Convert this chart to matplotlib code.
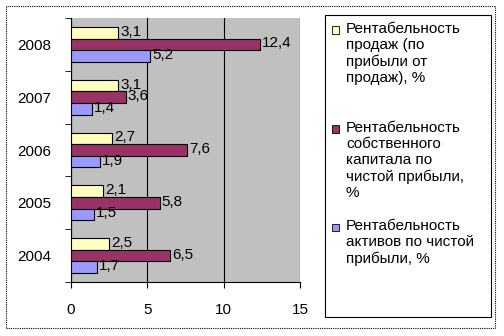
import numpy as np
import matplotlib
matplotlib.use('Agg')
import matplotlib.pyplot as plt
from matplotlib.patches import Rectangle

plt.rcParams['font.family'] = ['Liberation Sans', 'DejaVu Sans']

years = ['2004', '2005', '2006', '2007', '2008']
sales = [2.5, 2.1, 2.7, 3.1, 3.1]
equity = [6.5, 5.8, 7.6, 3.6, 12.4]
assets = [1.7, 1.5, 1.9, 1.4, 5.2]
names = ['Рентабельность\nпродаж (по\nприбыли от\nпродаж), %',
         'Рентабельность\nсобственного\nкапитала по\nчистой прибыли,\n%',
         'Рентабельность\nактивов по чистой\nприбыли, %']
colors = ['#ffffc0', '#993366', '#9999ff']

W, H = 504, 336
fig = plt.figure(figsize=(W / 100, H / 100), dpi=100)
# plot area in pixels: x 71..300, y 18..282
ax = fig.add_axes([71/W, 1 - 282/H, 229/W, 264/H])
ax.set_facecolor('#c0c0c0')

y = np.arange(len(years))
h = 0.22
series = [sales, equity, assets]
offsets = [h, 0, -h]
for vals, off, c in zip(series, offsets, colors):
    bars = ax.barh(y + off, vals, height=h, color=c, edgecolor='black',
                   linewidth=0.8, zorder=3)
    for b, v in zip(bars, vals):
        ax.text(v + 0.12, b.get_y() + b.get_height() / 2 + 0.02,
                ('%.1f' % v).replace('.', ','), va='center', ha='left',
                fontsize=11, zorder=4)

ax.set_xlim(0, 15)
ax.set_ylim(-0.5, 4.5)
ax.set_xticks([0, 5, 10, 15])
ax.set_yticks(y)
ax.set_yticklabels(years)
ax.set_yticks(np.arange(-0.5, 5, 1), minor=True)
ax.tick_params(axis='y', which='major', length=0, pad=14, labelsize=11)
ax.tick_params(axis='y', which='minor', length=4, direction='out')
ax.tick_params(axis='x', length=4, direction='out', pad=11, labelsize=11)
ax.xaxis.grid(True, color='black', linewidth=0.8, zorder=1)
ax.set_axisbelow(True)
for s in ['top', 'right']:
    ax.spines[s].set_visible(False)

# legend box drawn by hand (pixel layout as in the reference)
fig.patches.append(Rectangle((325/W, 1 - 317/H), 166/W, 302/H,
                             transform=fig.transFigure, fill=False,
                             edgecolor='black', linewidth=0.8))
first_line = [30, 129, 227]
for name, c, yc in zip(names, colors, first_line):
    fig.patches.append(Rectangle((332/W, 1 - (yc + 3.5)/H), 7/W, 7/H,
                                 transform=fig.transFigure, facecolor=c,
                                 edgecolor='black', linewidth=0.6))
    fig.text(346/W, 1 - (yc - 8)/H, name, fontsize=11, va='top',
             ha='left', linespacing=1.2)

fig.patches.append(Rectangle((6/W, 1 - 328/H), 489/W, 322/H,
                             transform=fig.transFigure, fill=False,
                             edgecolor='black', linewidth=0.8,
                             linestyle=(0, (1, 1))))

fig.savefig('out.png', dpi=100)
